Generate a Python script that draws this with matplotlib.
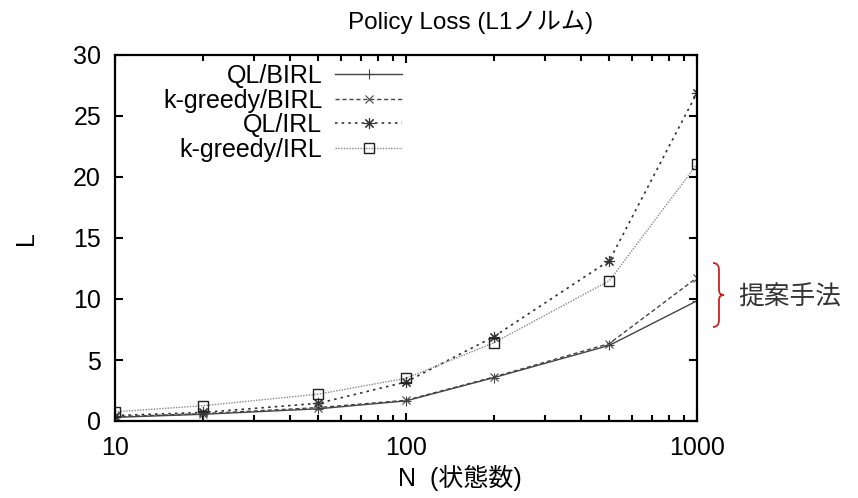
import matplotlib
matplotlib.use("Agg")
import matplotlib.pyplot as plt
from matplotlib.path import Path
from matplotlib.patches import PathPatch
from matplotlib.ticker import LogLocator, NullFormatter, FixedLocator

plt.rcParams['font.family'] = ['Liberation Sans', 'Noto Sans CJK JP', 'DejaVu Sans']

# N (number of states)
n_states = [10, 20, 50, 100, 200, 500, 1000]
ql_birl = [0.3, 0.55, 1.0, 1.65, 3.55, 6.2, 9.85]
kg_birl = [0.35, 0.6, 1.1, 1.7, 3.6, 6.35, 11.75]
ql_irl = [0.45, 0.7, 1.45, 3.2, 6.9, 13.15, 26.9]
kg_irl = [0.75, 1.25, 2.2, 3.5, 6.4, 11.5, 21.05]

labels = ['QL/BIRL', 'k-greedy/BIRL', 'QL/IRL', 'k-greedy/IRL']
yticks = [0, 5, 10, 15, 20, 25, 30]

fig = plt.figure(figsize=(8.58, 4.98), dpi=100)
ax = fig.add_axes([115 / 858, 1 - 421 / 498, 582 / 858, 366 / 498])

ax.plot(n_states, ql_birl, color='#444444', lw=1.0, ls='-',
        marker='+', ms=7, mew=0.8, label=labels[0])
ax.plot(n_states, kg_birl, color='#444444', lw=1.0, ls=(0, (3, 2)),
        marker='x', ms=6, mew=0.8, label=labels[1])
ax.plot(n_states, ql_irl, color='#333333', lw=1.2, ls=(0, (1.5, 2.5)),
        marker=(8, 2, 0), ms=8, mew=0.8, label=labels[2])
ax.plot(n_states, kg_irl, color='#888888', lw=1.0, ls=(0, (1, 1)),
        marker='s', ms=7, mfc='none', mec='#222222', mew=1.0, label=labels[3])

ax.set_xscale('log')
ax.set_xlim(10, 1000)
ax.set_ylim(0, 30)
ax.yaxis.set_major_locator(FixedLocator(yticks))
ax.xaxis.set_minor_locator(LogLocator(base=10, subs=range(2, 10)))
ax.xaxis.set_minor_formatter(NullFormatter())
ax.set_xticks([10, 100, 1000])
ax.set_xticklabels(['10', '100', '1000'])

for s in ax.spines.values():
    s.set_linewidth(1.6)
ax.tick_params(which='both', direction='in', top=True, right=True,
               labelsize=18, width=1.5)
ax.tick_params(which='major', length=6)
ax.tick_params(which='minor', length=4)
ax.tick_params(axis='y', pad=10)
ax.tick_params(axis='x', pad=11)

ax.set_ylabel('L', fontsize=18)
ax.yaxis.set_label_coords(-(115 - 38) / 582, 0.5)

fig.text(460 / 858, 1 - 478 / 498, 'N  (状態数)', fontsize=18,
         ha='center', va='center')
fig.text(471 / 858, 1 - 22 / 498, 'Policy Loss (L1ノルム)', fontsize=17.5,
         ha='center', va='center')

leg = ax.legend(loc='upper left', bbox_to_anchor=(0.0825, 0.975),
                frameon=False, markerfirst=False, fontsize=18,
                handlelength=2.7, handletextpad=0.5, labelspacing=0.02,
                borderpad=0, borderaxespad=0)

# red brace + annotation
pts = [(713, 263), (719, 263), (719, 270), (719, 276),
       (719, 282), (719, 290), (719, 290), (719, 295), (724, 295),
       (719, 295), (719, 300), (719, 300), (719, 308), (719, 314),
       (719, 320), (719, 327), (713, 327)]
codes = [Path.MOVETO, Path.CURVE3, Path.CURVE3, Path.LINETO,
         Path.LINETO, Path.LINETO, Path.LINETO, Path.CURVE3, Path.CURVE3,
         Path.CURVE3, Path.CURVE3, Path.LINETO, Path.LINETO, Path.LINETO,
         Path.LINETO, Path.CURVE3, Path.CURVE3]
verts = [(x / 858, 1 - y / 498) for x, y in pts]
brace = PathPatch(Path(verts, codes), transform=fig.transFigure,
                  fill=False, edgecolor='#cc2222', lw=1.3)
fig.patches.append(brace)
fig.text(738 / 858, 1 - 297 / 498, '提案手法', fontsize=18.5,
         color='#333333', ha='left', va='center')

fig.savefig('out.png', dpi=100)
